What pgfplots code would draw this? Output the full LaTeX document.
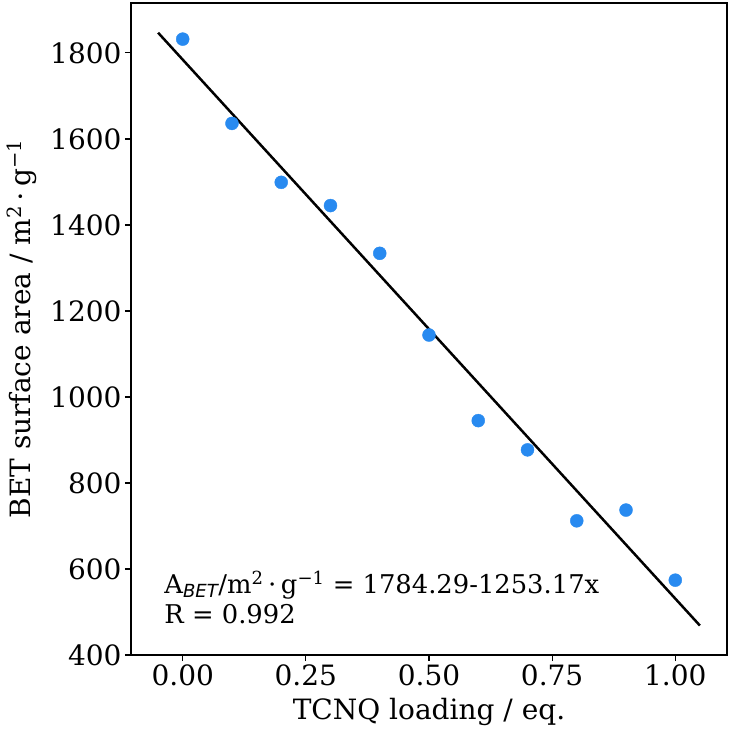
\documentclass[border=0pt]{standalone}
\usepackage{fontspec}
\setmainfont{DejaVu Serif}
\setsansfont{DejaVu Sans}
\usepackage{pgfplots}
\pgfplotsset{compat=1.18}
\usetikzlibrary{calc}
\definecolor{dotblue}{RGB}{40,138,240}
\begin{document}
\begin{tikzpicture}
\begin{axis}[
  name=ax,
  scale only axis,
  width=596pt, height=652pt,
  xmin=-0.105, xmax=1.105,
  ymin=400, ymax=1916,
  axis line style={line width=1.2pt},
  tick style={line width=1.2pt, black},
  tick align=outside,
  major tick length=6pt,
  xtick pos=bottom, ytick pos=left,
  xtick={0,0.25,0.5,0.75,1},
  ytick={400,600,...,1800},
  /pgf/number format/assume math mode=true,
  tick label style={font=\fontsize{28}{32}\selectfont},
  xticklabel style={/pgf/number format/.cd, fixed, fixed zerofill, precision=2},
  yticklabel style={/pgf/number format/.cd, fixed, 1000 sep={}},
  xlabel={TCNQ loading / eq.},
  ylabel={BET surface area / m\textsuperscript{2}\,⋅\,g\textsuperscript{−1}},
  label style={font=\fontsize{28}{32}\selectfont},
  xlabel style={yshift=-6pt},
  ylabel style={yshift=7pt},
  clip=false,
]
\addplot[only marks, mark=*, mark size=6.5pt, color=dotblue] coordinates {
  (0.0,1832) (0.1,1636) (0.2,1499) (0.3,1445) (0.4,1334) (0.5,1144)
  (0.6,945) (0.7,877) (0.8,712) (0.9,737) (1.0,574)
};
\addplot[black, line width=2.5pt] coordinates {(-0.05,1846.95) (1.05,468.47)};
\node[anchor=base west, font=\fontsize{25.8}{30}\selectfont, align=left, inner sep=0pt]
  at (axis cs:-0.0375,544) {A\textsubscript{\sffamily\itshape BET}/m\textsuperscript{2}\,⋅\,g\textsuperscript{−1} = 1784.29-1253.17x};
\node[anchor=base west, font=\fontsize{25.8}{30}\selectfont, inner sep=0pt]
  at (axis cs:-0.0375,474) {R = 0.992};
\end{axis}
\pgfresetboundingbox
\useasboundingbox ($(ax.south west)+(-131pt,-82pt)$) rectangle ($(ax.north east)+(5pt,3pt)$);
\end{tikzpicture}
\end{document}
